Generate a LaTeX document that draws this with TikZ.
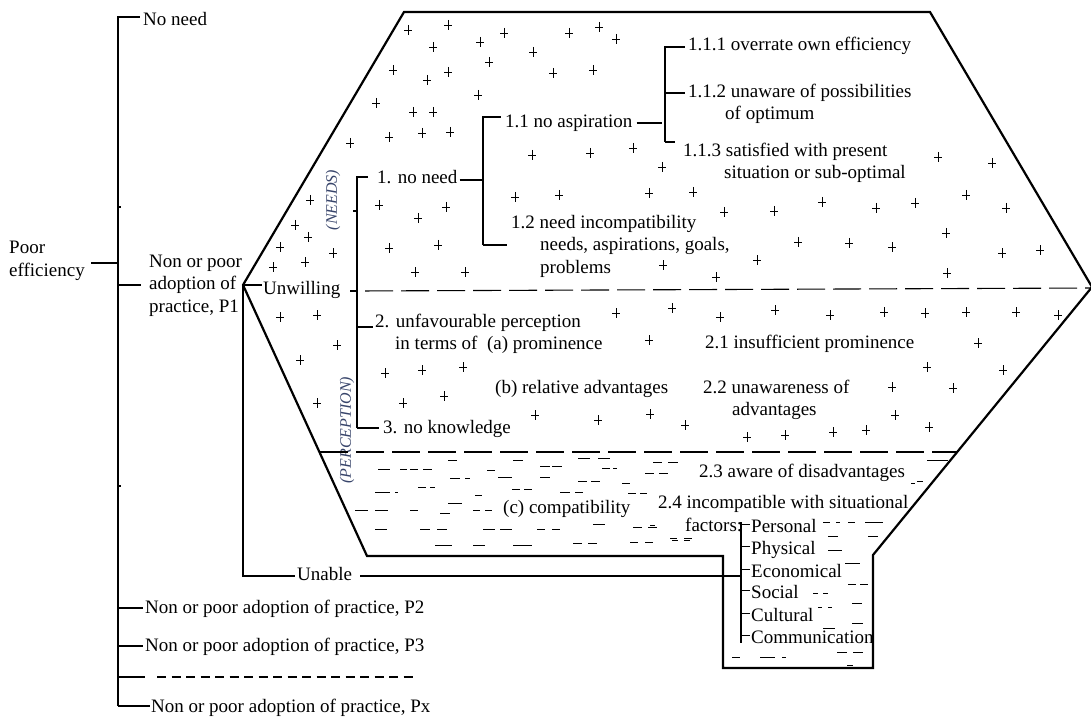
\documentclass[tikz,border=0pt]{standalone}
\usepackage{fontspec}
\setmainfont{Liberation Serif}
\definecolor{lblue}{rgb}{0.22,0.27,0.42}
\begin{document}
\begin{tikzpicture}[x=1pt,y=-1pt,
 ln/.style={line width=1.1pt},
 outl/.style={line width=2.2pt, line join=miter},
 dashln/.style={line width=1.1pt, dash pattern=on 28pt off 8pt},
 plusst/.style={line width=0.9pt},
 mk/.style={line width=0.9pt},
 lbl/.style={anchor=base west, inner sep=0pt, text height=15pt, text depth=0pt, font=\fontsize{19}{22}\selectfont},
 vlbl/.style={rotate=90, inner sep=0pt, font=\itshape\fontsize{16}{18}\selectfont, text=lblue}]
\fill[white] (0,0) rectangle (1091,719);
\useasboundingbox (0,0) rectangle (1091,719);

% ---------- outline ----------
\draw[outl] (243,285) -- (404,12) -- (930,12) -- (1092,287) -- (873,555) -- (873,668) -- (723,668) -- (723,556) -- (367,556) -- cycle;

% ---------- text nodes ----------
\node[lbl] (noneed) at (143,26) {No need};
\node[lbl] (poor) at (9,253) {Poor};
\node[lbl] (eff) at (9,276) {efficiency};
\node[lbl] (p1a) at (149,267) {Non or poor};
\node[lbl] (p1b) at (149,289) {adoption of};
\node[lbl] (p1c) at (149,312) {practice, P1};
\node[lbl] (unw) at (263,294) {Unwilling};
\node[lbl] (unable) at (297,580) {Unable};
\node[lbl] (p2) at (145,613) {Non or poor adoption of practice, P2};
\node[lbl] (p3) at (145,651) {Non or poor adoption of practice, P3};
\node[lbl] (px) at (151,712) {Non or poor adoption of practice, Px};
\node[lbl] (n1) at (377,184) {1. no need};
\node[lbl] (n11) at (505,128) {1.1 no aspiration};
\node[lbl] (n12a) at (511,229) {1.2 need incompatibility};
\node[lbl] (n12b) at (540,251) {needs, aspirations, goals,};
\node[lbl] (n12c) at (540,273) {problems};
\node[lbl] (n111) at (688,51) {1.1.1 overrate own efficiency};
\node[lbl] (n112a) at (688,98) {1.1.2 unaware of possibilities};
\node[lbl] (n112b) at (725,120) {of optimum};
\node[lbl] (n113a) at (683,157) {1.1.3 satisfied with present};
\node[lbl] (n113b) at (724,179) {situation or sub-optimal};
\node[lbl] (n2a) at (375,327) {2. unfavourable perception};
\node[lbl] (n2b) at (395,349) {in terms of\ \ (a) prominence};
\node[lbl] (n2bb) at (495,393) {(b) relative advantages};
\node[lbl] (n2c) at (503,513) {(c) compatibility};
\node[lbl] (n3) at (383,433) {3. no knowledge};
\node[lbl] (n21) at (705,348) {2.1 insufficient prominence};
\node[lbl] (n22a) at (703,393) {2.2 unawareness of};
\node[lbl] (n22b) at (732,415) {advantages};
\node[lbl] (n23) at (699,477) {2.3 aware of disadvantages};
\node[lbl] (n24a) at (658,508) {2.4 incompatible with situational};
\node[lbl] (n24b) at (685,531) {factors:};
\node[lbl] (f1) at (751,532) {Personal};
\node[lbl] (f2) at (751,554) {Physical};
\node[lbl] (f3) at (751,577) {Economical};
\node[lbl] (f4) at (751,598) {Social};
\node[lbl] (f5) at (751,621) {Cultural};
\node[lbl] (f6) at (751,643) {Communication};
\node[vlbl] (needs) at (333,200) {(NEEDS)};
\node[vlbl] (perc) at (347,430) {(PERCEPTION)};

% ---------- left tree ----------
\coordinate (ltop) at (118,17);
\coordinate (lbot) at (118,706);
\draw[ln, shorten >=3pt] (lbot) -- (ltop) -- (ltop -| noneed.west);
\draw[ln, shorten >=1pt] (ltop |- lbot) -- (lbot -| px.west);
\coordinate (pe) at (118,263);
\draw[ln, shorten >=6pt] (pe) -- (pe -| eff.east);
\coordinate (jp1) at (118,285);
\draw[ln, shorten >=8pt] (jp1) -- (jp1 -| p1b.west);
\draw[ln] (118,207) -- (121,207);
\draw[ln] (118,486) -- (121,486);
\coordinate (jp2) at (118,608);
\draw[ln, shorten >=2pt] (jp2) -- (jp2 -| p2.west);
\coordinate (jp3) at (118,646);
\draw[ln, shorten >=2pt] (jp3) -- (jp3 -| p3.west);
\coordinate (jdots) at (118,677);
\coordinate (dotsend) at (417,677);
\draw[ln] (jdots) -- (145,677);
\draw[ln, dash pattern=on 9pt off 5.5pt] (157,677) -- (dotsend);

% ---------- P1 branches ----------
\coordinate (apex) at (243,285);
\coordinate (ub) at (243,576);
\coordinate (ftop) at (741,522);
\coordinate (fbot) at (741,643);
\draw[ln, shorten >=1pt] (apex) -- (apex -| unw.west);
\draw[ln, shorten >=2pt] (apex) -- (ub) -- (ub -| unable.west);
\draw[ln, shorten <=8pt] (ub -| unable.east) -- (ub -| ftop);

\coordinate (uw) at (357,291);
\coordinate (rapex) at (1092,288);
\draw[ln, shorten <=10pt] (uw -| unw.east) -- (uw);
\draw[dashln, shorten <=8pt] (uw) -- (rapex);
\coordinate (lowl) at (320,452);
\coordinate (lowr) at (957,452);
\draw[dashln] (lowl) -- (lowr);

% ---------- unwilling bracket ----------
\coordinate (njt) at (357,177);
\coordinate (njb) at (357,428);
\coordinate (j2) at (357,327);
\draw[ln, shorten >=9pt] (njb) -- (njt) -- (njt -| n1.west);
\draw[ln, shorten >=4pt] (njb) -- (njb -| n3.west);
\draw[ln, shorten >=2pt] (j2) -- (j2 -| n2a.west);
\draw[ln] (353,211) -- (357,211);

% ---------- need bracket ----------
\coordinate (b1t) at (483,117);
\coordinate (b1m) at (483,180);
\coordinate (b1b) at (483,245);
\draw[ln, shorten <=2pt] (b1m -| n1.east) -- (b1m);
\draw[ln, shorten >=4pt] (b1b) -- (b1t) -- (b1t -| n11.west);
\draw[ln, shorten >=4pt] (b1t |- b1b) -- (b1b -| n12a.west);

% ---------- aspiration bracket ----------
\coordinate (b2t) at (665,47);
\coordinate (b2m) at (665,123);
\coordinate (b2x) at (665,93);
\coordinate (b2b) at (665,142);
\draw[ln, shorten <=4pt, shorten >=3pt] (b2m -| n11.east) -- (b2m);
\draw[ln, shorten >=3pt] (b2b) -- (b2t) -- (b2t -| n111.west);
\draw[ln, shorten >=3pt] (b2x) -- (b2x -| n112a.west);
\draw[ln, shorten >=8pt] (b2t |- b2b) -- (b2b -| n113a.west);

% ---------- factor list ----------
\draw[ln] (ftop) -- (fbot);
\foreach \f in {f1,f2,f3,f4,f5,f6}
  \draw[ln, shorten >=1pt] (\f.west -| ftop) -- (\f.west);

% ---------- plus marks ----------
\foreach \x/\y in {408/30,448/25,433/47,480/42,504/33,533/52,569/33,599/27,616/39,393/70,427/80,448/72,489/62,553/73,593/70,376/103,413/112,433/112,478/95,389/137,422/133,450/132,350/143,590/153,633/148,532/155,662/167,515/197,559/195,649/193,693/192,724/212,379/205,418/218,446/207,389/248,438/245,415/272,465/272,663/265,716/277,310/200,295/225,308/237,280/247,333/253,305/262,273/267,938/157,992/163,774/211,822/202,876/208,915/203,966/195,1006/208,798/242,849/243,892/247,946/233,1002/253,1040/250,757/260,947/273,
280/317,317/315,337/345,300/360,317/403,385/373,422/370,463/367,403/403,444/396,616/313,672/308,649/340,535/415,598/420,650/414,685/425,720/317,775/310,830/315,884/312,925/313,966/312,1016/312,1058/315,978/343,927/367,1003/370,892/387,953/388,747/437,785/435,833/432,866/430,895/415,929/427}
  \draw[plusst] (\x-4,\y) -- (\x+4,\y) (\x,\y-5) -- (\x,\y+5);

% ---------- dash marks ----------
\foreach \a/\b/\y in {378/390/469,400/407/469,410/418/469,423/432/469,448/457/460,513/523/460,578/590/458,598/610/458,653/662/462,668/678/462,450/460/478,465/470/478,487/495/470,498/512/477,540/550/466,552/562/466,540/550/477,578/587/481,591/600/481,602/610/468,613/617/468,622/630/483,645/654/473,659/668/473,375/390/492,395/398/492,418/426/487,430/435/487,475/482/495,512/520/489,524/532/489,560/570/492,575/583/492,628/636/493,640/647/493,355/368/510,375/388/510,410/418/510,440/450/513,448/462/503,473/480/510,485/492/510,375/387/529,420/430/529,437/447/529,483/495/529,500/512/529,537/545/529,552/560/529,593/605/524,633/642/527,648/657/527,435/452/545,473/485/545,513/532/545,573/582/543,588/597/543,630/638/542,645/653/542,672/678/540,684/690/540,927/948/460,911/915/483,917/923/481,650/655/525,670/677/538,684/692/538,823/830/522,836/840/522,848/855/522,865/883/522,828/838/536,868/878/536,828/842/550,845/860/563,848/856/584,860/868/584,813/818/593,823/828/593,852/862/603,818/822/607,828/832/607,852/863/623,823/835/628,732/740/657,760/775/657,782/786/657,837/847/652,853/863/652,847/853/665}
  \draw[mk] (\a,\y) -- (\b,\y);
\end{tikzpicture}
\end{document}
